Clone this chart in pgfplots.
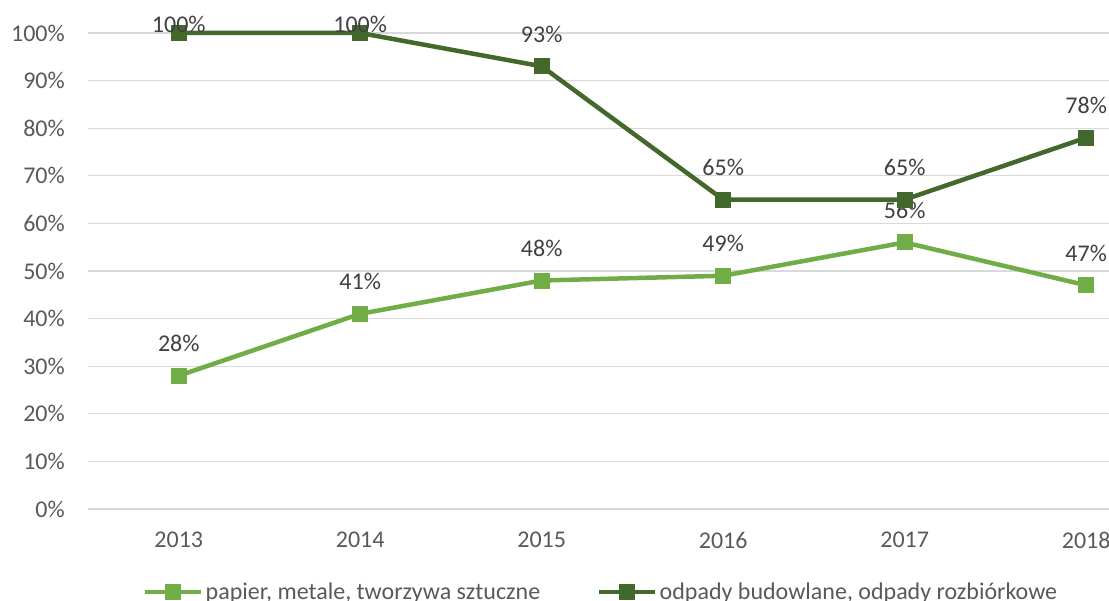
\documentclass[border=0pt]{standalone}
\usepackage{fontspec}
\setmainfont{Carlito}
\usepackage{pgfplots}
\pgfplotsset{compat=1.18}
\usepackage{pgfplotstable}
\definecolor{lgreen}{HTML}{70AD47}
\definecolor{dgreen}{HTML}{43682B}
\definecolor{gridgray}{HTML}{D9D9D9}
\definecolor{txtgray}{HTML}{595959}
\definecolor{lblgray}{HTML}{404040}
\pgfplotstableread{
x y dy
0 28 32
1 41 32
2 48 32
3 49 32
4 56 32
5 47 32
}\papier
\pgfplotstableread{
x y dy
0 100 8.5
1 100 8.5
2 93 32
3 65 32
4 65 32
5 78 32
}\budowlane
\begin{document}
\begin{tikzpicture}
\useasboundingbox (0,0) rectangle (1109pt,601pt);
\clip (0,0) rectangle (1109pt,601pt);
\begin{axis}[
  at={(88pt,92pt)}, anchor=south west,
  scale only axis,
  width=1089pt, height=476pt,
  xmin=-0.5, xmax=5.5, ymin=0, ymax=100,
  axis line style={draw=none},
  ymajorgrids, grid style={gridgray, line width=1.2pt},
  xtick={0,1,2,3,4,5},
  xticklabels={2013,2014,2015,2016,2017,2018},
  ytick={0,10,...,100},
  yticklabels={0\%,10\%,20\%,30\%,40\%,50\%,60\%,70\%,80\%,90\%,100\%},
  major tick length=0pt, tick style={draw=none},
  tick label style={font=\fontsize{24}{28}\selectfont, text=txtgray, inner sep=0pt},
  yticklabel style={anchor=east, xshift=-23pt},
  xticklabel style={anchor=north, yshift=-23pt},
  clip=false,
  nodes near coords={\pgfplotspointmeta\%},
  point meta=explicit symbolic,
  visualization depends on={\thisrow{dy} \as \dy},
  every node near coord/.append style={font=\fontsize{24}{28}\selectfont, text=lblgray, anchor=center, yshift=\dy pt},
  legend columns=2,
  legend style={at={(0.0505,-0.1744)}, anchor=west, draw=none, fill=none, inner sep=0pt,
    font=\fontsize{24}{28}\selectfont, text=txtgray,
    /tikz/every even column/.append style={column sep=55pt}},
  legend cell align=left,
  legend image code/.code={\draw[mark repeat=2,mark phase=2] plot coordinates {(0pt,0pt) (28pt,0pt) (56pt,0pt)};},
]
\addplot[lgreen, line width=4.5pt, mark=square*, mark size=7.5pt, mark options={line width=0pt, fill=lgreen}]
  table[x=x, y=y, meta=y] \papier;
\addlegendentry{papier, metale, tworzywa sztuczne}
\addplot[dgreen, line width=4.5pt, mark=square*, mark size=7.5pt, mark options={line width=0pt, fill=dgreen}]
  table[x=x, y=y, meta=y] \budowlane;
\addlegendentry{odpady budowlane, odpady rozbiórkowe}
\end{axis}
\end{tikzpicture}
\end{document}
